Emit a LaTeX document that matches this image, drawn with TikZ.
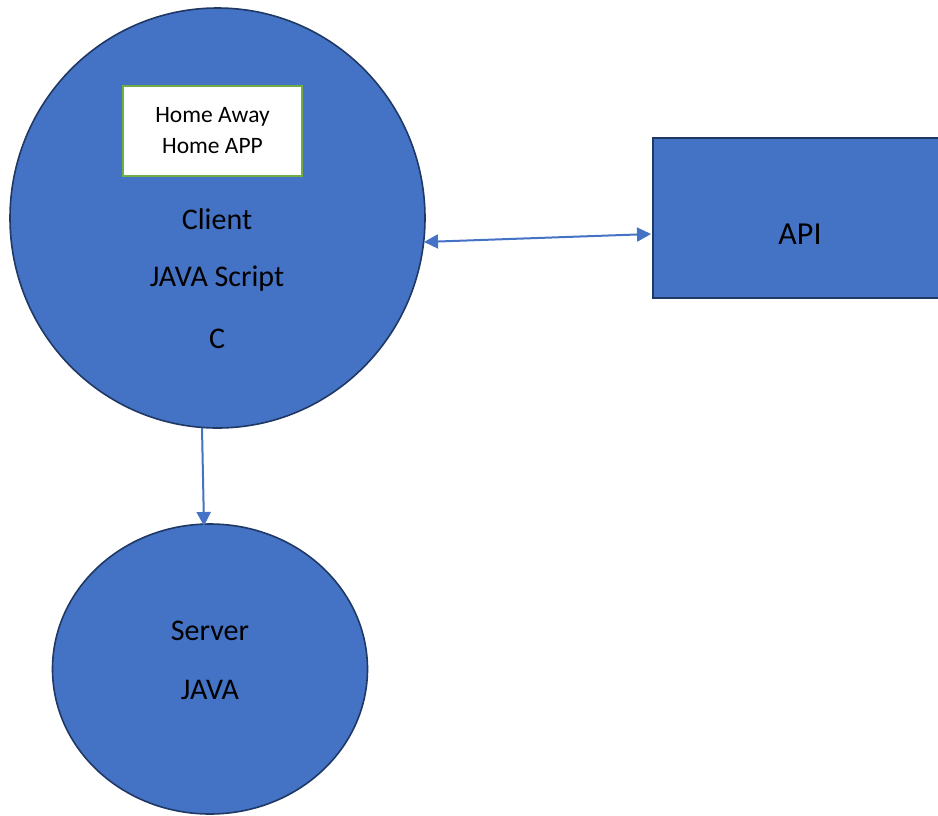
\documentclass[tikz,border=0pt]{standalone}
\usepackage{fontspec}
\setmainfont{Carlito}
\usetikzlibrary{arrows.meta,shapes.geometric}
\definecolor{fillblue}{HTML}{4472C4}
\definecolor{edgeblue}{HTML}{203864}
\definecolor{boxgreen}{HTML}{70AD47}
\tikzset{
  blob/.style={ellipse, fill=fillblue, draw=edgeblue, line width=1.6pt, inner sep=0pt},
  apibox/.style={rectangle, fill=fillblue, draw=edgeblue, line width=1.6pt, inner sep=0pt},
  appbox/.style={rectangle, fill=white, draw=boxgreen, line width=2pt, inner sep=0pt, align=center, font=\fontsize{23.5}{31}\selectfont},
  lbl/.style={font=\fontsize{30}{34}\selectfont, text=black},
  conn/.style={draw=fillblue, line width=2pt, -{Triangle[length=14pt,width=14pt]}},
}
\begin{document}
\begin{tikzpicture}[x=1pt,y=-1pt]
\useasboundingbox (0,0) rectangle (938,815);
\begin{scope}
\clip (0,0) rectangle (938,815);
\node[blob, minimum width=415pt, minimum height=420pt] (client) at (217.5,218) {};
\node[blob, minimum width=315pt, minimum height=290pt] (server) at (210,669) {};
\node[apibox, minimum width=296pt, minimum height=160pt] (api) at (801,218) {};
\end{scope}
\node[appbox, minimum width=179pt, minimum height=90pt] (app) at (212.5,131) {Home Away\\Home APP};
\node[lbl] (t1) at (217,219) {Client};
\node[lbl] (t2) at (217,279) {JAVA Script};
\node[lbl] (t3) at (217,339) {C};
\node[lbl] (t4) at (210,631) {Server};
\node[lbl] (t5) at (210,690) {JAVA};
\node[font=\fontsize{32}{36}\selectfont] (t6) at (800,234) {API};
\coordinate (a1) at (424,242);
\coordinate (a2) at (651,234);
\draw[conn, {Triangle[length=14pt,width=14pt]}-{Triangle[length=14pt,width=14pt]}] (a1) -- (a2);
\coordinate (d1) at (202,428);
\coordinate (d2) at (204,526);
\draw[conn] (d1) -- (d2);
\end{tikzpicture}
\end{document}
